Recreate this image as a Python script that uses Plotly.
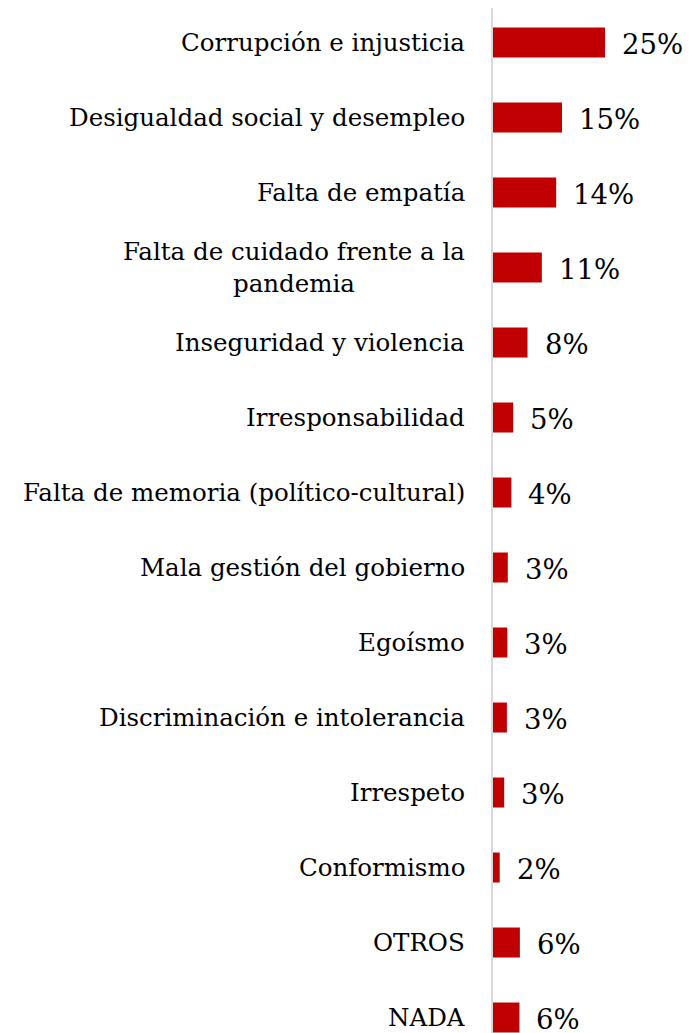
import plotly.graph_objects as go

categories = [
    "Corrupción e injusticia",
    "Desigualdad social y desempleo",
    "Falta de empatía",
    "Falta de cuidado frente a la<br>pandemia",
    "Inseguridad y violencia",
    "Irresponsabilidad",
    "Falta de memoria (político-cultural)",
    "Mala gestión del gobierno",
    "Egoísmo",
    "Discriminación e intolerancia",
    "Irrespeto",
    "Conformismo",
    "OTROS",
    "NADA",
]
values = [25.0, 15.4, 14.1, 10.9, 7.7, 4.5, 4.1, 3.3, 3.2, 3.1, 2.5, 1.5, 6.0, 5.9]
shown_pct = [25, 15, 14, 11, 8, 5, 4, 3, 3, 3, 3, 2, 6, 6]

BAR_COLOR = "#C00000"
FONT = "DejaVu Serif"

fig = go.Figure(
    go.Bar(
        x=values,
        y=categories,
        orientation="h",
        marker=dict(color=BAR_COLOR, line=dict(width=0)),
        width=0.4,
        hoverinfo="skip",
    )
)

for cat, v, s in zip(categories, values, shown_pct):
    fig.add_annotation(
        x=v, y=cat, xref="x", yref="y", text=f"{s}%", showarrow=False,
        xanchor="left", xshift=15, yshift=-1,
        font=dict(family=FONT, size=27.5, color="#000000"),
    )
    fig.add_annotation(
        x=0, y=cat, xref="paper", yref="y", text=cat, showarrow=False,
        xanchor="right", xshift=-26, align="center",
        font=dict(family=FONT, size=24.5, color="#000000"),
    )

fig.update_layout(
    width=692, height=1033,
    margin=dict(l=485, r=0, t=0, b=0),
    paper_bgcolor="white", plot_bgcolor="white",
    showlegend=False,
    bargap=0.6,
)
fig.update_xaxes(range=[0, 46.2], visible=False, fixedrange=True)
fig.update_yaxes(
    categoryorder="array", categoryarray=categories,
    range=[13.313, -0.46],
    showticklabels=False, showgrid=False, zeroline=False,
    showline=True, linecolor="#D9D9D9", linewidth=1.5, ticks="",
    fixedrange=True,
)

fig.write_html("out.html")
